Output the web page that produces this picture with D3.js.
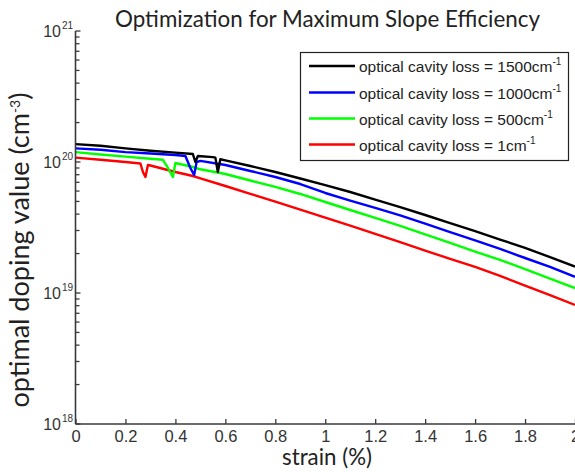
<!DOCTYPE html>
<html>
<head>
<meta charset="utf-8">
<script src="https://cdn.jsdelivr.net/npm/d3@7"></script>
<style>
  html, body { margin: 0; padding: 0; background: #fff; }
  svg { display: block; }
</style>
</head>
<body>
<svg id="chart" width="575" height="472"></svg>
<script>
// ---- data (strain in %, optimal doping in cm^-3) ----
const seriesNames = ["1500", "1000", "500", "1"];
const seriesColors = ["#000000", "#0000ff", "#00ff00", "#ff0000"];

const strain1500 = [0, 0.1, 0.2, 0.3, 0.4, 0.47, 0.48, 0.49, 0.55, 0.56, 0.57, 0.58, 0.6, 0.7, 0.8, 0.9, 1.0, 1.1, 1.2, 1.3, 1.4, 1.5, 1.6, 1.7, 1.8, 1.9, 2.0];
const doping1500 = [1.37e20, 1.33e20, 1.27e20, 1.22e20, 1.18e20, 1.15e20, 1.00e20, 1.11e20, 1.09e20, 1.08e20, 8.39e19, 1.05e20, 1.03e20, 9.32e19, 8.39e19, 7.48e19, 6.67e19, 5.90e19, 5.17e19, 4.53e19, 3.94e19, 3.42e19, 2.97e19, 2.56e19, 2.21e19, 1.88e19, 1.59e19];

const strain1000 = [0, 0.1, 0.2, 0.3, 0.4, 0.44, 0.46, 0.475, 0.485, 0.5, 0.6, 0.7, 0.8, 0.9, 1.0, 1.1, 1.2, 1.3, 1.4, 1.5, 1.6, 1.7, 1.8, 1.9, 2.0];
const doping1000 = [1.27e20, 1.24e20, 1.19e20, 1.16e20, 1.13e20, 1.11e20, 9.00e19, 7.96e19, 1.00e20, 1.02e20, 9.49e19, 8.54e19, 7.68e19, 6.79e19, 5.80e19, 5.08e19, 4.46e19, 3.91e19, 3.39e19, 2.92e19, 2.52e19, 2.17e19, 1.85e19, 1.58e19, 1.33e19];

const strain500 = [0, 0.1, 0.2, 0.3, 0.35, 0.37, 0.39, 0.40, 0.47, 0.5, 0.6, 0.7, 0.8, 0.9, 1.0, 1.1, 1.2, 1.3, 1.4, 1.5, 1.6, 1.7, 1.8, 1.9, 2.0];
const doping500 = [1.19e20, 1.14e20, 1.10e20, 1.06e20, 1.04e20, 9.00e19, 7.68e19, 9.83e19, 9.16e19, 8.80e19, 8.10e19, 7.22e19, 6.45e19, 5.70e19, 4.95e19, 4.30e19, 3.74e19, 3.25e19, 2.80e19, 2.41e19, 2.07e19, 1.79e19, 1.52e19, 1.29e19, 1.09e19];

const strain1 = [0, 0.1, 0.2, 0.26, 0.27, 0.28, 0.29, 0.3, 0.4, 0.47, 0.5, 0.6, 0.7, 0.8, 0.9, 1.0, 1.1, 1.2, 1.3, 1.4, 1.5, 1.6, 1.7, 1.8, 1.9, 2.0];
const doping1 = [1.08e20, 1.04e20, 1.00e20, 9.74e19, 8.39e19, 7.68e19, 9.49e19, 9.40e19, 8.39e19, 7.82e19, 7.51e19, 6.56e19, 5.72e19, 4.98e19, 4.33e19, 3.76e19, 3.27e19, 2.83e19, 2.45e19, 2.11e19, 1.82e19, 1.58e19, 1.35e19, 1.14e19, 9.65e18, 8.10e18];

const xTicks = [0, 0.2, 0.4, 0.6, 0.8, 1, 1.2, 1.4, 1.6, 1.8, 2];
const yDecades = [18, 19, 20, 21];

const titleText = "Optimization for Maximum Slope Efficiency";
const xLabelText = "strain (%)";
const yLabelText = "optimal doping value (cm";
const yLabelSup = "-3";

// ---- build ----
const series = [
  { name: seriesNames[0], color: seriesColors[0], x: strain1500, y: doping1500 },
  { name: seriesNames[1], color: seriesColors[1], x: strain1000, y: doping1000 },
  { name: seriesNames[2], color: seriesColors[2], x: strain500, y: doping500 },
  { name: seriesNames[3], color: seriesColors[3], x: strain1, y: doping1 }
];

const svg = d3.select("#chart");
const L = 75.5, R = 575, T = 31, B = 424;
const x = d3.scaleLinear().domain([0, 2]).range([L, R]);
const y = d3.scaleLog().domain([1e18, 1e21]).range([B, T]);

const tickFont = "'Liberation Sans', Arial, sans-serif";
const labelFont = "Lato, 'Open Sans', sans-serif";
const axisColor = "#3a3a3a";

function fitText(sel, target) {
  const node = sel.node();
  const fs = parseFloat(sel.attr("font-size"));
  const w = node.getComputedTextLength();
  if (w > 0) sel.attr("font-size", (fs * target / w).toFixed(2));
}

// lines (drawn first, under legend)
const line = d3.line().x(d => x(d[0])).y(d => y(d[1]));
const plot = svg.append("g");
series.slice().reverse().forEach(s => {
  plot.append("path")
    .datum(s.x.map((v, i) => [v, s.y[i]]))
    .attr("d", line)
    .attr("fill", "none")
    .attr("stroke", s.color)
    .attr("stroke-width", 2.4)
    .attr("stroke-linejoin", "round");
});

// x axis
const xAxis = d3.axisBottom(x).tickValues(xTicks).tickSize(-5).tickPadding(6)
  .tickFormat(d3.format("~g"));
const gx = svg.append("g").attr("transform", `translate(0,${B})`).call(xAxis);
gx.select(".domain").attr("stroke", axisColor).attr("stroke-width", 1.6).attr("d", `M${L},0H${R}`);
gx.selectAll(".tick line").attr("stroke", axisColor).attr("stroke-width", 1.3);
gx.selectAll(".tick text").attr("font-family", tickFont).attr("font-size", 16.5)
  .attr("fill", "#333").attr("dy", "0.71em");

// y axis (log): minor ticks
const minorVals = [];
for (let e = 18; e < 21; e++) for (let k = 2; k <= 9; k++) minorVals.push(k * Math.pow(10, e));
const gy = svg.append("g");
gy.append("line").attr("x1", L).attr("x2", L).attr("y1", y(1e21)).attr("y2", B)
  .attr("stroke", axisColor).attr("stroke-width", 1.6);
gy.selectAll("line.minor").data(minorVals).join("line").attr("class", "minor")
  .attr("x1", L).attr("x2", L + 4).attr("y1", d => y(d)).attr("y2", d => y(d))
  .attr("stroke", axisColor).attr("stroke-width", 1.3);
gy.selectAll("line.major").data(yDecades).join("line").attr("class", "major")
  .attr("x1", L).attr("x2", L + 5).attr("y1", d => y(Math.pow(10, d))).attr("y2", d => y(Math.pow(10, d)))
  .attr("stroke", axisColor).attr("stroke-width", 1.3);
gy.selectAll("text.ytick").data(yDecades).join("text").attr("class", "ytick")
  .attr("x", 61).attr("y", d => y(Math.pow(10, d)) + 6)
  .attr("text-anchor", "end")
  .attr("font-family", tickFont).attr("font-size", 16).attr("fill", "#333")
  .text("10");
gy.selectAll("text.ysup").data(yDecades).join("text").attr("class", "ysup")
  .attr("x", 62).attr("y", d => y(Math.pow(10, d)) - 2)
  .attr("font-family", tickFont).attr("font-size", 10).attr("fill", "#333")
  .text(d => d);

// title
const title = svg.append("text").attr("x", 327.5).attr("y", 27).attr("text-anchor", "middle")
  .attr("font-family", labelFont).attr("font-size", 22).attr("fill", "#222").text(titleText);
fitText(title, 425);

// x label
const xl = svg.append("text").attr("x", 327).attr("y", 465).attr("text-anchor", "middle")
  .attr("font-family", labelFont).attr("font-size", 22).attr("fill", "#222").text(xLabelText);
fitText(xl, 90);

// y label
const yl = svg.append("text").attr("transform", "translate(29,250) rotate(-90)")
  .attr("text-anchor", "middle").attr("font-family", labelFont).attr("font-size", 22).attr("fill", "#222");
yl.append("tspan").text(yLabelText);
yl.append("tspan").attr("font-size", 14).attr("dy", -9).text(yLabelSup);
yl.append("tspan").attr("dy", 9).text(")");
fitText(yl, 318);

// legend
const lg = svg.append("g");
lg.append("rect").attr("x", 300.5).attr("y", 52.5).attr("width", 268).attr("height", 108)
  .attr("fill", "#fff").attr("stroke", "#222").attr("stroke-width", 1.2);
const rowY = [66, 92.5, 118.5, 144.5];
series.forEach((s, i) => {
  lg.append("line").attr("x1", 309).attr("x2", 355).attr("y1", rowY[i]).attr("y2", rowY[i])
    .attr("stroke", s.color).attr("stroke-width", 2.4);
  const t = lg.append("text").attr("x", 359).attr("y", rowY[i] + 6)
    .attr("font-family", tickFont).attr("font-size", 15.5).attr("fill", "#222");
  t.append("tspan").text(`optical cavity loss = ${s.name}cm`);
  t.append("tspan").attr("font-size", 10).attr("dy", -7).text("-1");
});
</script>
</body>
</html>
